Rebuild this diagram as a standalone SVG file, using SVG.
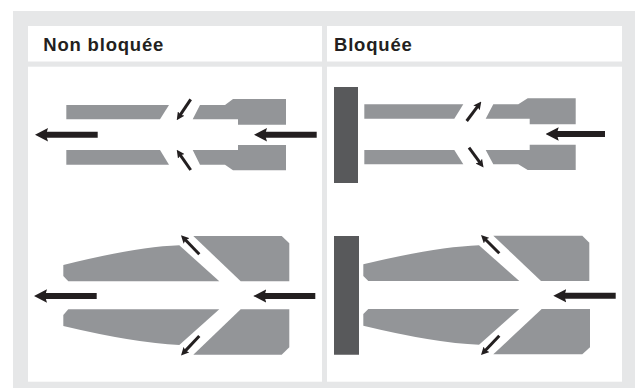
<svg xmlns="http://www.w3.org/2000/svg" width="635" height="388" viewBox="0 0 635 388">
<style>
.bg{fill:#e6e7e8}
.cell{fill:#fff}
.part{fill:#939598}
.wall{fill:#58595b}
.big{stroke:#231f20;stroke-width:6;fill:none}
.small{stroke:#231f20;stroke-width:3;fill:none}
.head{fill:#231f20}
text{font-family:"Liberation Sans",Arial,sans-serif;font-weight:700;font-size:18.500px;letter-spacing:.8px;fill:#231f20}
</style>
<defs>
<marker id="hb" markerUnits="userSpaceOnUse" viewBox="0 0 13 14" markerWidth="13" markerHeight="14" refX="6" refY="7" orient="auto"><path class="head" d="M0 0.300L13 7L0 13.700L2 7Z"/></marker>
<marker id="hs" markerUnits="userSpaceOnUse" viewBox="0 0 8 8" markerWidth="8" markerHeight="8" refX="3.500" refY="4" orient="auto"><path class="head" d="M0 0L8 4L0 8L1.500 4Z"/></marker>
</defs>
<rect class="bg" x="13" y="11" width="622" height="377"/>
<g id="header-left"><rect class="cell" x="28" y="26" width="294" height="35.500"/><text x="43.300" y="50.700">Non bloquée</text></g>
<g id="header-right"><rect class="cell" x="327" y="26" width="295" height="35.500"/><text x="334" y="50.700">Bloquée</text></g>
<rect class="cell" x="28" y="66.700" width="294" height="315"/>
<rect class="cell" x="327" y="66.700" width="295" height="315"/>
<g id="nozzle-a">
<polygon class="part" points="66.300,105 169,105 160,119.300 66.300,119.300"/>
<polygon class="part" points="192.700,119.300 200,105 225,105 233,99 286,99 286,124.700 238,124.700 238,119.300"/>
<polygon class="part" points="66.300,150 160,150 169,164.700 66.300,164.700"/>
<polygon class="part" points="192.700,150 238,150 238,145 286,145 286,170.300 233,170.300 225,164.700 200,164.700"/>
</g>
<g id="nozzle-b">
<polygon class="wall" points="334,87 358,87 358,183 334,183"/>
<polygon class="part" points="364.300,104.300 463.300,104.300 454.300,118.700 364.300,118.700"/>
<polygon class="part" points="485.700,118.700 493.300,104.300 518.300,104.300 527.700,98.300 575.700,98.300 575.700,124.300 529.700,124.300 529.700,118.700"/>
<polygon class="part" points="364.300,150 454.300,150 463.300,164.300 364.300,164.300"/>
<polygon class="part" points="485.700,150 529.700,150 529.700,144.700 575.700,144.700 575.700,170 527.700,170 518.300,164.300 493.300,164.300"/>
</g>
<g id="nozzle-c">
<polygon class="part" points="193.300,236 281.700,236 289.300,243.300 289.300,281.300 240.700,281.300"/>
<polygon class="part" points="240.700,309.300 289.300,309.300 289.300,347.300 281.700,354.700 193.300,354.700"/>
<path class="part" d="M63.300 265Q135 247 179.300 245.300L219.300 281.300H68.300L63.300 276Z"/>
<path class="part" d="M68.300 309.300H219.300L179.300 345Q135 343 63.300 326V315Z"/>
</g>
<g id="nozzle-d">
<polygon class="wall" points="334,236 359,236 359,354.700 334,354.700"/>
<polygon class="part" points="493.300,235.700 582.300,235.700 589.300,242.700 589.300,281 541,281"/>
<polygon class="part" points="541.700,309 590,309 590,347.300 582.300,354.300 493.300,354.300"/>
<path class="part" d="M363.300 264.300Q435 247 479 245.300L519.300 281H368.300L363.300 276Z"/>
<path class="part" d="M368.300 309H519.300L479 344.700Q435 343 363.300 325.700V314Z"/>
</g>
<g id="connectors">
<line class="big" x1="97.700" y1="134.700" x2="42" y2="134.700" marker-end="url(#hb)"/>
<line class="big" x1="316.700" y1="134.700" x2="261" y2="134.700" marker-end="url(#hb)"/>
<line class="big" x1="605" y1="134" x2="552.700" y2="134" marker-end="url(#hb)"/>
<line class="big" x1="96.700" y1="296" x2="41" y2="296" marker-end="url(#hb)"/>
<line class="big" x1="315.300" y1="296" x2="260.300" y2="296" marker-end="url(#hb)"/>
<line class="big" x1="615.700" y1="295.700" x2="560.300" y2="295.700" marker-end="url(#hb)"/>
<line class="small" x1="190.700" y1="99.300" x2="179.250" y2="116.390" marker-end="url(#hs)"/>
<line class="small" x1="190.700" y1="170" x2="179.300" y2="153.570" marker-end="url(#hs)"/>
<line class="small" x1="466.700" y1="121" x2="478.600" y2="105.100" marker-end="url(#hs)"/>
<line class="small" x1="469" y1="147.700" x2="480.900" y2="163.900" marker-end="url(#hs)"/>
<line class="small" x1="199.300" y1="254.300" x2="184.100" y2="238.500" marker-end="url(#hs)"/>
<line class="small" x1="199.300" y1="336" x2="184.100" y2="352.150" marker-end="url(#hs)"/>
<line class="small" x1="499.300" y1="253.300" x2="484.200" y2="238.200" marker-end="url(#hs)"/>
<line class="small" x1="499.300" y1="335.700" x2="484.100" y2="351.800" marker-end="url(#hs)"/>
</g>
</svg>
